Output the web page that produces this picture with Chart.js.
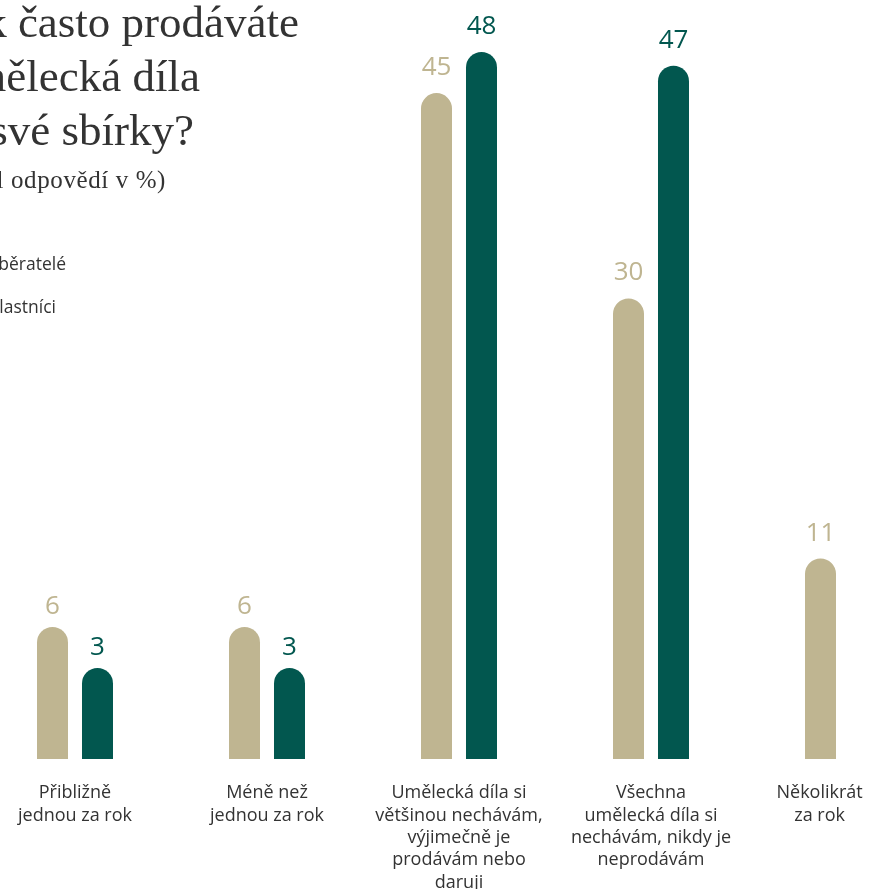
<!DOCTYPE html>
<html lang="cs">
<head>
<meta charset="utf-8">
<title>Jak často prodáváte umělecká díla ze své sbírky?</title>
<script src="https://cdn.jsdelivr.net/npm/chart.js@4"></script>
<style>
    html, body {
        margin: 0;
        padding: 0;
        width: 874px;
        height: 889px;
        overflow: hidden;
        background: #fff;
    }
    .wrap {
        position: relative;
        width: 874px;
        height: 889px;
        overflow: hidden;
    }
    .chartBox {
        position: absolute;
        left: -21px;
        top: 0;
        width: 960px;
        height: 889px;
    }
    .line {
        position: absolute;
        white-space: nowrap;
        color: #333;
    }
    .title {
        font-family: "Liberation Serif", "DejaVu Serif", serif;
        font-size: 45px;
        line-height: 1;
    }
    .subtitle {
        font-family: "Liberation Serif", "DejaVu Serif", serif;
        font-size: 25px;
        letter-spacing: 0.6px;
        line-height: 1;
    }
    .legendItem {
        font-family: "Open Sans", sans-serif;
        font-size: 17.5px;
        line-height: 1;
        color: #333;
    }
    .legendItem i {
        display: inline-block;
        width: 14px;
        height: 14px;
        border-radius: 7px;
        margin-right: 10px;
    }
</style>
</head>
<body>
<div class="wrap">
    <div class="chartBox"><canvas id="myChart" width="960" height="889"></canvas></div>

    <div class="line title" style="right:575px; top:0px;">Jak často prodáváte</div>
    <div class="line title" style="right:674px; top:54px;">umělecká díla</div>
    <div class="line title" style="right:680px; top:108px;">ze své sbírky?</div>
    <div class="line subtitle" style="right:708px; top:167px;">(podíl odpovědí v %)</div>

    <div class="line legendItem" style="right:808px; top:255px;"><i style="background:#bfb591"></i>Sběratelé</div>
    <div class="line legendItem" style="right:818px; top:298px;"><i style="background:#02574f"></i>Vlastníci</div>
</div>

<script>
    "use strict";

    const categories = [
        ["Přibližně", "jednou za rok"],
        ["Méně než", "jednou za rok"],
        ["Umělecká díla si", "většinou nechávám,", "výjimečně je", "prodávám nebo", "daruji"],
        ["Všechna", "umělecká díla si", "nechávám, nikdy je", "neprodávám"],
        ["Několikrát", "za rok"]
    ];
    const sberatele = [6, 6, 45, 30, 11];
    const vlastnici = [3, 3, 48, 47, null];

    const beige = "#bfb591";
    const green = "#02574f";

    // value labels above the bars
    const valueLabels = {
        id: "valueLabels",
        afterDatasetsDraw(chart) {
            const ctx = chart.ctx;
            ctx.save();
            ctx.font = "400 26px 'Open Sans', sans-serif";
            ctx.textAlign = "center";
            ctx.textBaseline = "alphabetic";
            chart.data.datasets.forEach(function (ds, i) {
                const meta = chart.getDatasetMeta(i);
                meta.data.forEach(function (bar, j) {
                    if (ds.data[j] == null) return;
                    ctx.fillStyle = ds.labelColor;
                    // first two groups sit a bit closer to their bars
                    const gap = j < 2 ? 13 : 18;
                    ctx.fillText(ds.data[j], bar.x, bar.y - gap);
                });
            });
            ctx.restore();
        }
    };

    const ctx = document.getElementById("myChart");
    new Chart(ctx, {
        type: "bar",
        data: {
            labels: categories,
            datasets: [
                {
                    label: "Sběratelé",
                    data: sberatele,
                    backgroundColor: beige,
                    labelColor: beige,
                },
                {
                    label: "Vlastníci",
                    data: vlastnici,
                    backgroundColor: green,
                    labelColor: green,
                },
            ],
        },
        options: {
            responsive: false,
            animation: false,
            maintainAspectRatio: false,
            layout: {
                padding: 0,
            },
            datasets: {
                bar: {
                    base: -3.645,
                    categoryPercentage: 0.46875,
                    barPercentage: 0.689,
                    borderRadius: {topLeft: 16, topRight: 16},
                    borderSkipped: "bottom",
                    clip: false,
                },
            },
            plugins: {
                legend: {
                    display: false,
                },
                tooltip: {
                    enabled: false,
                },
            },
            scales: {
                y: {
                    display: false,
                    min: -3.645,
                    max: 51.8,
                },
                x: {
                    offset: true,
                    grid: {
                        display: false,
                        drawTicks: false,
                    },
                    border: {
                        display: false,
                    },
                    ticks: {
                        color: "#333",
                        padding: 23,
                        autoSkip: false,
                        maxRotation: 0,
                        font: {
                            family: "'Open Sans', sans-serif",
                            size: 18,
                            lineHeight: 1.24,
                        },
                        callback: function (value, index) {
                            const lab = categories[index];
                            // last label sits a little left so it stays on the page
                            if (index === categories.length - 1) {
                                return lab.map(function (s) { return s + "\u00a0\u00a0\u00a0\u00a0\u00a0\u00a0\u00a0\u00a0\u00a0\u00a0"; });
                            }
                            return lab;
                        },
                    },
                    afterFit: function (scale) {
                        scale.height = 130;
                        scale.paddingLeft = 0;
                        scale.paddingRight = 0;
                    },
                },
            },
        },
        plugins: [valueLabels],
    });
</script>
</body>
</html>
